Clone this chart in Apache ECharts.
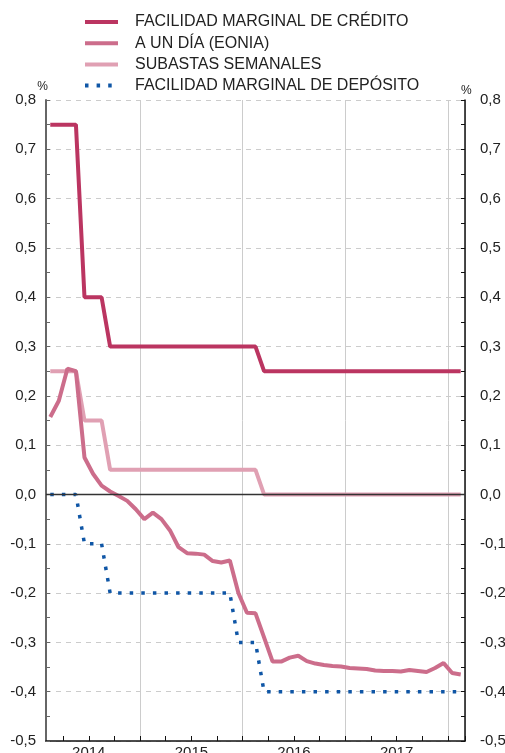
<!DOCTYPE html>
<html>
<head>
<meta charset="utf-8">
<script src="https://cdn.jsdelivr.net/npm/echarts@6/dist/echarts.min.js"></script>
<style>
html,body{margin:0;padding:0;background:#fff;}
#chart{width:505px;height:753px;}
</style>
</head>
<body>
<div id="chart"></div>
<script>
// Monthly categories, Feb 2014 – Feb 2018
var months = [
  "2014-02","2014-03","2014-04","2014-05","2014-06","2014-07","2014-08","2014-09","2014-10","2014-11","2014-12",
  "2015-01","2015-02","2015-03","2015-04","2015-05","2015-06","2015-07","2015-08","2015-09","2015-10","2015-11","2015-12",
  "2016-01","2016-02","2016-03","2016-04","2016-05","2016-06","2016-07","2016-08","2016-09","2016-10","2016-11","2016-12",
  "2017-01","2017-02","2017-03","2017-04","2017-05","2017-06","2017-07","2017-08","2017-09","2017-10","2017-11","2017-12",
  "2018-01","2018-02"
];

var seriesNames = [
  "FACILIDAD MARGINAL DE CRÉDITO",
  "A UN DÍA (EONIA)",
  "SUBASTAS SEMANALES",
  "FACILIDAD MARGINAL DE DEPÓSITO"
];

var credito = [
  0.75,0.75,0.75,0.75,0.40,0.40,0.40,0.30,0.30,0.30,0.30,
  0.30,0.30,0.30,0.30,0.30,0.30,0.30,0.30,0.30,0.30,0.30,0.30,
  0.30,0.30,0.25,0.25,0.25,0.25,0.25,0.25,0.25,0.25,0.25,0.25,
  0.25,0.25,0.25,0.25,0.25,0.25,0.25,0.25,0.25,0.25,0.25,0.25,
  0.25,0.25
];

var eonia = [
  0.157,0.19,0.255,0.25,0.075,0.042,0.018,0.006,-0.003,-0.013,-0.03,
  -0.05,-0.037,-0.05,-0.073,-0.107,-0.119,-0.12,-0.122,-0.135,-0.138,-0.134,-0.20,
  -0.24,-0.241,-0.29,-0.339,-0.339,-0.331,-0.327,-0.338,-0.343,-0.346,-0.348,-0.349,
  -0.352,-0.353,-0.354,-0.357,-0.358,-0.358,-0.359,-0.356,-0.358,-0.360,-0.352,-0.342,
  -0.362,-0.365
];

var subastas = [
  0.25,0.25,0.25,0.25,0.15,0.15,0.15,0.05,0.05,0.05,0.05,
  0.05,0.05,0.05,0.05,0.05,0.05,0.05,0.05,0.05,0.05,0.05,0.05,
  0.05,0.05,0.00,0.00,0.00,0.00,0.00,0.00,0.00,0.00,0.00,0.00,
  0.00,0.00,0.00,0.00,0.00,0.00,0.00,0.00,0.00,0.00,0.00,0.00,
  0.00,0.00
];

var deposito = [
  0.00,0.00,0.00,0.00,-0.10,-0.10,-0.10,-0.20,-0.20,-0.20,-0.20,
  -0.20,-0.20,-0.20,-0.20,-0.20,-0.20,-0.20,-0.20,-0.20,-0.20,-0.20,-0.30,
  -0.30,-0.30,-0.40,-0.40,-0.40,-0.40,-0.40,-0.40,-0.40,-0.40,-0.40,-0.40,
  -0.40,-0.40,-0.40,-0.40,-0.40,-0.40,-0.40,-0.40,-0.40,-0.40,-0.40,-0.40,
  -0.40,-0.40
];

var colors = ["#bb3561", "#cc6d8b", "#e0a0b3", "#0f56a6"];

var FONT = "'Liberation Sans', Arial, Helvetica, sans-serif";

function fmt(v) { return v.toFixed(1).replace('.', ','); }

function yAxisCfg(pos) {
  var left = pos === 'left';
  return {
    type: 'value',
    position: pos,
    min: -0.5, max: 0.8, interval: 0.1,
    name: '%',
    nameLocation: 'end',
    nameGap: 3,
    nameTextStyle: { fontFamily: FONT, fontSize: 12, color: '#222', align: left ? 'right' : 'left', padding: left ? [0, -2, 0, 0] : [0, 0, 0, -4] },
    axisLine: { show: true, lineStyle: { color: left ? '#666' : '#111', width: left ? 2 : 1.5 } },
    axisTick: { show: true, inside: true, length: 4, lineStyle: { color: left ? '#666' : '#111', width: 1 } },
    minorTick: { show: true, splitNumber: 2, length: 4, lineStyle: { color: left ? '#666' : '#111', width: 1 } },
    axisLabel: { fontFamily: FONT, fontSize: 15, color: '#222', margin: left ? 10 : 15, formatter: fmt },
    splitLine: left ? { show: true, lineStyle: { color: '#cccccc', type: [5, 5], width: 1 } } : { show: false }
  };
}

var chart = echarts.init(document.getElementById('chart'), null, { renderer: 'canvas' });

var option = {
  animation: false,
  backgroundColor: '#ffffff',
  grid: { left: 46, right: 40, top: 100, bottom: 12, containLabel: false, outerBoundsMode: 'none' },
  legend: {
    orient: 'vertical',
    left: 83, top: 14,
    padding: 0,
    icon: 'inherit',
    itemWidth: 33, itemHeight: 14, itemGap: 5.2,
    itemStyle: { opacity: 0 },
    lineStyle: { width: 4, cap: 'butt' },
    data: seriesNames,
    textStyle: { fontFamily: FONT, fontSize: 16, color: '#222', lineHeight: 14, padding: [0, 0, 0, 12] }
  },
  xAxis: {
    type: 'category',
    data: months,
    boundaryGap: true,
    axisLine: { show: true, onZero: false, lineStyle: { color: '#111', width: 1.5 } },
    axisTick: {
      show: true, inside: true, length: 5,
      lineStyle: { color: '#111', width: 1 },
      interval: function (idx) { return (idx + 1) % 3 === 0; }
    },
    axisLabel: {
      fontFamily: FONT, fontSize: 15, color: '#222', margin: 4,
      padding: [0, 8.5, 0, 0],
      interval: function (idx) { return (idx + 1) % 12 === 6; },
      formatter: function (v) { return v.slice(0, 4); }
    },
    splitLine: {
      show: true,
      lineStyle: { color: '#cccccc', width: 1 },
      interval: function (idx) { return (idx + 1) % 12 === 0; }
    }
  },
  yAxis: [yAxisCfg('left'), yAxisCfg('right')],
  series: [
    {
      name: seriesNames[0], type: 'line', data: credito, z: 5,
      symbol: 'none', color: colors[0],
      lineStyle: { color: colors[0], width: 4 }
    },
    {
      name: seriesNames[1], type: 'line', data: eonia, z: 4,
      symbol: 'none', color: colors[1],
      lineStyle: { color: colors[1], width: 4 }
    },
    {
      name: seriesNames[2], type: 'line', data: subastas, z: 3,
      symbol: 'none', color: colors[2],
      lineStyle: { color: colors[2], width: 4 },
      markLine: {
        silent: true, symbol: ['none', 'none'], label: { show: false },
        lineStyle: { color: '#333', width: 1.3, type: 'solid' },
        data: [{ yAxis: 0 }],
        z: 6
      }
    },
    {
      name: seriesNames[3], type: 'line', data: deposito, z: 2,
      symbol: 'none', color: colors[3],
      lineStyle: { color: colors[3], width: 3.5, type: [3.5, 8.1], cap: 'butt' }
    }
  ]
};

chart.setOption(option);
</script>
</body>
</html>
